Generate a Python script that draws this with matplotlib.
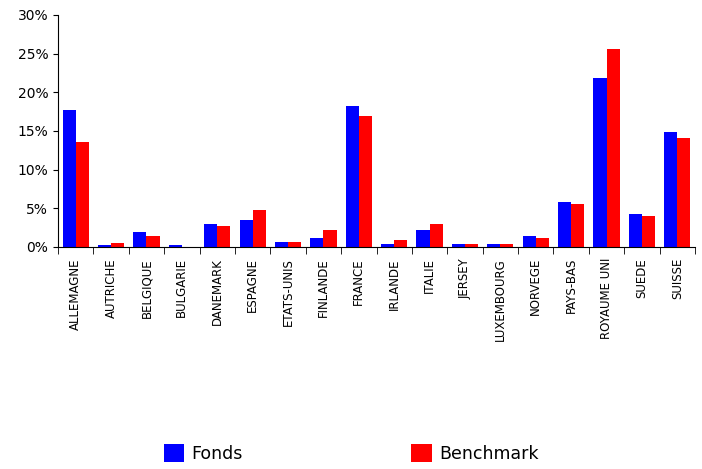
import matplotlib
matplotlib.use("Agg")
import matplotlib.pyplot as plt
import numpy as np
from matplotlib.ticker import FuncFormatter

categories = ["ALLEMAGNE","AUTRICHE","BELGIQUE","BULGARIE","DANEMARK","ESPAGNE","ETATS-UNIS",
              "FINLANDE","FRANCE","IRLANDE","ITALIE","JERSEY","LUXEMBOURG","NORVEGE",
              "PAYS-BAS","ROYAUME UNI","SUEDE","SUISSE"]
fonds = [17.7,0.2,1.9,0.2,3.0,3.5,0.7,1.2,18.2,0.4,2.2,0.4,0.4,1.4,5.8,21.9,4.3,14.9]
bench = [13.6,0.5,1.4,0.05,2.7,4.8,0.7,2.2,16.9,0.9,3.0,0.4,0.4,1.2,5.6,25.6,4.0,14.1]

fig = plt.figure(figsize=(7.02,4.69), dpi=100)
ax = fig.add_axes([58/702, 1-247/469, (695-58)/702, (247-15)/469])
x = np.arange(len(categories))
w = 0.37
b1 = ax.bar(x-w/2, fonds, w, color="#0000FF", label="Fonds")
b2 = ax.bar(x+w/2, bench, w, color="#FF0000", label="Benchmark")
ax.set_xlim(-0.5, len(categories)-0.5)
ax.set_ylim(0, 30)
ax.set_yticks(range(0,31,5))
ax.yaxis.set_major_formatter(FuncFormatter(lambda v,p: f"{int(v)}%"))
ax.set_xticks(x)
ax.set_xticklabels(categories, rotation=90, fontsize=8.5)
ax.tick_params(axis='y', labelsize=10)
ax.set_xticks(np.arange(len(categories)+1)-0.5, minor=True)
ax.tick_params(axis='x', which='major', length=0, pad=8)
ax.tick_params(axis='x', which='minor', length=5)
for s in ["top","right"]:
    ax.spines[s].set_visible(False)
fig.legend(handles=[b1, b2], labels=["Fonds","Benchmark"], loc="lower center",
           bbox_to_anchor=(0.5,-0.02), ncol=2, frameon=False, fontsize=12.5,
           columnspacing=9.7, handlelength=1.2, handleheight=1.2, handletextpad=0.4)
fig.savefig("out.png", dpi=100)
